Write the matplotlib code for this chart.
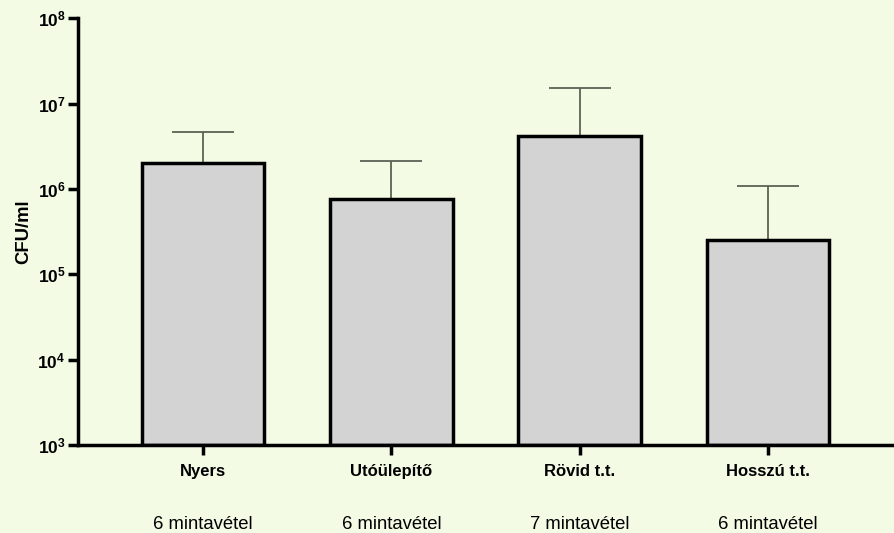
import matplotlib
matplotlib.use("Agg")
import matplotlib.pyplot as plt
import numpy as np
from matplotlib.ticker import FixedLocator, NullLocator

plt.rcParams['font.family'] = ['Liberation Sans', 'DejaVu Sans']
plt.rcParams['mathtext.fontset'] = 'custom'
plt.rcParams['mathtext.rm'] = 'Liberation Sans'
plt.rcParams['mathtext.bf'] = 'Liberation Sans:bold'

categories = ["Nyers", "Utóülepítő", "Rövid t.t.", "Hosszú t.t."]
means = [2.0e6, 7.6e5, 4.2e6, 2.5e5]
upper = [4.6e6, 2.1e6, 1.5e7, 1.08e6]
samples = ["6 mintavétel", "6 mintavétel", "7 mintavétel", "6 mintavétel"]
ytick_exps = [3, 4, 5, 6, 7, 8]

bg = "#F3FBE5"
fig = plt.figure(figsize=(8.94, 5.33), dpi=100, facecolor=bg)
ax = fig.add_axes([0.0872, 0.165, 0.9128, 0.801], facecolor=bg)

x = np.arange(len(categories))
yerr = [np.zeros(len(means)), np.array(upper) - np.array(means)]
ax.errorbar(x, means, yerr=yerr, fmt='none', ecolor='#5C6355', elinewidth=1.3,
            capsize=22.5, capthick=1.3, zorder=1)
ax.bar(x, np.array(means) - 1e3, bottom=1e3, width=0.65, color='#D3D3D3',
       edgecolor='black', linewidth=2.5, zorder=2)

ax.set_yscale('log')
ax.set_ylim(1e3, 1e8)
ax.set_xlim(-0.665, 3.67)
ax.yaxis.set_major_locator(FixedLocator([10.0**e for e in ytick_exps]))
ax.yaxis.set_minor_locator(NullLocator())
ax.set_yticklabels([r'$\mathbf{10^{%d}}$' % e for e in ytick_exps], fontsize=12.5)
ax.set_xticks(x)
ax.set_xticklabels(categories, fontsize=12, fontweight='bold')

for s in ['top', 'right']:
    ax.spines[s].set_visible(False)
for s in ['left', 'bottom']:
    ax.spines[s].set_linewidth(2.5)
ax.tick_params(axis='both', width=2.5, length=7, pad=2)
ax.tick_params(axis='x', pad=7)

ax.set_ylabel("CFU/ml", fontsize=13.3, fontweight='bold', labelpad=4)

for xi, s in zip(x, samples):
    ax.text(xi, -0.187, s, transform=ax.get_xaxis_transform(), ha='center',
            va='center', fontsize=13.3)

fig.savefig("out.png", dpi=100, facecolor=bg)
